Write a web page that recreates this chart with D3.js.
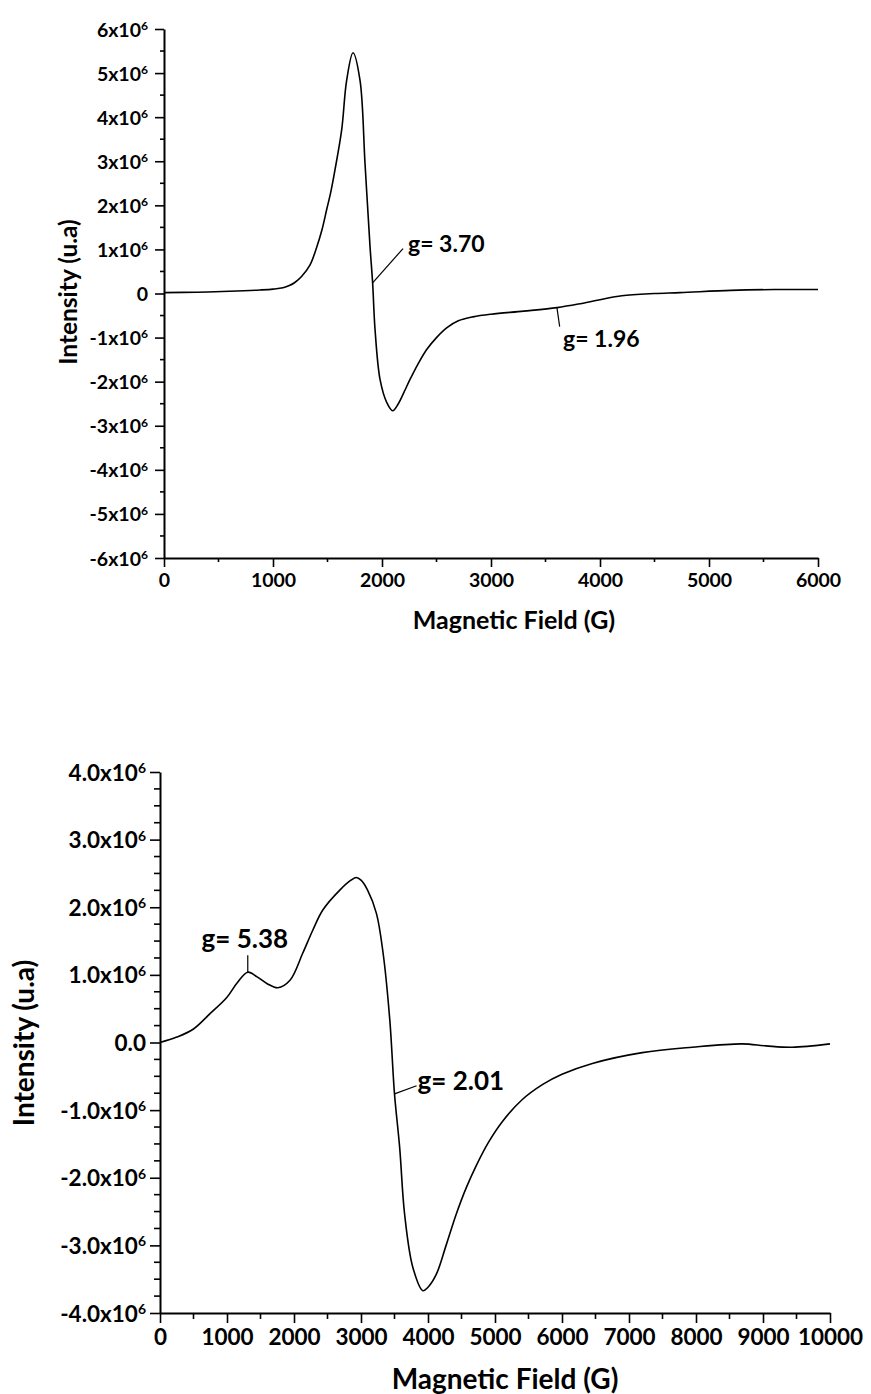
<!DOCTYPE html>
<html>
<head>
<meta charset="utf-8">
<script src="https://cdn.jsdelivr.net/npm/d3@7"></script>
<style>
  html, body { margin: 0; padding: 0; background: #fff; }
  svg { display: block; }
  text { font-family: Lato, "Open Sans", sans-serif; font-weight: bold; fill: #000; }
</style>
</head>
<body>
<svg id="chart" width="871" height="1394"></svg>
<script>
// ---------- DATA (Intensity in units of 10^6) ----------
// Top spectrum
const topField = [0, 300, 600, 880, 1000, 1092, 1150, 1200, 1260, 1340, 1401, 1450, 1492, 1530, 1569, 1630, 1676, 1734, 1798, 1844, 1890, 1914, 1936, 1982, 2043, 2098, 2150, 2200, 2257, 2330, 2410, 2500, 2593, 2700, 2835, 3000, 3300, 3605, 3800, 4000, 4200, 4500, 4734, 5200, 5600, 6000];
const topIntensity = [0.02, 0.03, 0.05, 0.08, 0.10, 0.13, 0.18, 0.25, 0.38, 0.65, 1.05, 1.45, 1.90, 2.30, 2.81, 3.71, 4.84, 5.46, 4.84, 2.96, 1.07, 0.24, -0.81, -1.95, -2.47, -2.66, -2.50, -2.25, -1.95, -1.60, -1.27, -1.00, -0.78, -0.62, -0.53, -0.47, -0.40, -0.32, -0.24, -0.14, -0.05, 0.00, 0.02, 0.07, 0.09, 0.09];
const topXTicks = [0, 1000, 2000, 3000, 4000, 5000, 6000];
const topYTicks = [6, 5, 4, 3, 2, 1, 0, -1, -2, -3, -4, -5, -6];
const topYLabels = ["6x10|6", "5x10|6", "4x10|6", "3x10|6", "2x10|6", "1x10|6", "0", "-1x10|6", "-2x10|6", "-3x10|6", "-4x10|6", "-5x10|6", "-6x10|6"];
const topNotes = [
  { text: "g= 3.70", ax: 1914, ay: 0.24, ex: 2193, ey: 1.02, tx: 2239, ty: 1.15, anchor: "start" },
  { text: "g= 1.96", ax: 3605, ay: -0.32, ex: 3630, ey: -0.75, tx: 3661, ty: -1.00, anchor: "start" }
];

// Bottom spectrum
const botField = [0, 250, 500, 750, 1000, 1150, 1310, 1450, 1600, 1760, 1940, 2130, 2280, 2430, 2680, 2850, 2930, 3000, 3100, 3230, 3330, 3430, 3500, 3577, 3651, 3775, 3924, 4000, 4123, 4270, 4421, 4570, 4720, 4900, 5117, 5400, 5713, 6000, 6453, 7198, 7943, 8688, 9046, 9434, 10000];
const botIntensity = [0.00, 0.08, 0.20, 0.43, 0.67, 0.88, 1.04, 0.97, 0.87, 0.81, 0.92, 1.32, 1.66, 1.96, 2.25, 2.40, 2.44, 2.40, 2.25, 1.91, 1.32, 0.33, -0.76, -1.55, -2.54, -3.33, -3.67, -3.62, -3.43, -3.00, -2.54, -2.15, -1.82, -1.48, -1.16, -0.85, -0.62, -0.47, -0.31, -0.15, -0.07, -0.02, -0.05, -0.07, -0.02];
const botXTicks = [0, 1000, 2000, 3000, 4000, 5000, 6000, 7000, 8000, 9000, 10000];
const botYTicks = [4, 3, 2, 1, 0, -1, -2, -3, -4];
const botYLabels = ["4.0x10|6", "3.0x10|6", "2.0x10|6", "1.0x10|6", "0.0", "-1.0x10|6", "-2.0x10|6", "-3.0x10|6", "-4.0x10|6"];
const botNotes = [
  { text: "g= 5.38", ax: 1310, ay: 1.04, ex: 1310, ey: 1.29, tx: 1267, ty: 1.54, anchor: "middle" },
  { text: "g= 2.01", ax: 3500, ay: -0.76, ex: 3830, ey: -0.64, tx: 3845, ty: -0.56, anchor: "start" }
];

// ---------- DRAW ----------
const svg = d3.select("#chart");

function drawPanel(cfg) {
  const x = d3.scaleLinear().domain(cfg.xDomain).range([cfg.x0, cfg.x1]);
  const y = d3.scaleLinear().domain(cfg.yDomain).range([cfg.y0, cfg.y1]);
  const g = svg.append("g");

  const xMinor = d3.range(cfg.xDomain[0], cfg.xDomain[1] + 1e-9, cfg.xMinorStep).filter(v => !cfg.xTicks.includes(v));
  const yMinor = d3.range(cfg.yDomain[0], cfg.yDomain[1] + 1e-9, cfg.yMinorStep).filter(v => !cfg.yTicks.some(t => Math.abs(t - v) < 1e-6));

  const xAxis = d3.axisBottom(x).tickValues(cfg.xTicks).tickSize(cfg.majorLen).tickSizeOuter(0).tickPadding(cfg.xPad).tickFormat(d3.format("d"));
  const gx = g.append("g").attr("transform", `translate(0,${cfg.y0})`).call(xAxis);
  gx.selectAll("text").style("font-size", cfg.tickFont + "px");
  gx.append("g").selectAll("line").data(xMinor).join("line")
    .attr("x1", d => x(d)).attr("x2", d => x(d)).attr("y1", 0).attr("y2", cfg.minorLen)
    .attr("stroke", "#000").attr("stroke-width", 1.6);

  const yAxis = d3.axisLeft(y).tickValues(cfg.yTicks).tickSize(cfg.majorLen).tickSizeOuter(0).tickPadding(cfg.yPad).tickFormat(() => "");
  const gy = g.append("g").attr("transform", `translate(${cfg.x0},0)`).call(yAxis);
  gy.append("g").selectAll("line").data(yMinor).join("line")
    .attr("x1", 0).attr("x2", -cfg.minorLen).attr("y1", d => y(d)).attr("y2", d => y(d))
    .attr("stroke", "#000").attr("stroke-width", 1.6);

  gy.selectAll(".tick").each(function(d, i) {
    const t = d3.select(this).select("text").text(null)
      .style("font-size", cfg.tickFont + "px").attr("dy", "0.36em");
    const parts = cfg.yLabels[i].split("|");
    t.append("tspan").text(parts[0]);
    if (parts[1]) {
      t.append("tspan").text(parts[1]).attr("dy", "-0.55em").style("font-size", (cfg.tickFont * 0.62) + "px");
    }
  });

  g.selectAll(".domain").attr("stroke", "#000").attr("stroke-width", 2);
  g.selectAll(".tick line").attr("stroke", "#000").attr("stroke-width", 1.6);

  g.append("text").attr("x", cfg.xTitleX).attr("y", cfg.xTitleY)
    .attr("text-anchor", "middle").attr("dominant-baseline", "central")
    .style("font-size", cfg.xTitleFont + "px").text("Magnetic Field (G)");
  g.append("text").attr("transform", `translate(${cfg.yTitleX},${cfg.yTitleY}) rotate(-90)`)
    .attr("text-anchor", "middle").attr("dominant-baseline", "central")
    .style("font-size", cfg.yTitleFont + "px").text("Intensity (u.a)");

  const line = d3.line().x(d => x(d[0])).y(d => y(d[1])).curve(d3.curveCatmullRom.alpha(0.5));
  g.append("path").datum(cfg.field.map((f, i) => [f, cfg.intensity[i]]))
    .attr("d", line).attr("fill", "none").attr("stroke", "#000").attr("stroke-width", 1.6);

  cfg.notes.forEach(n => {
    g.append("line").attr("x1", x(n.ax)).attr("y1", y(n.ay)).attr("x2", x(n.ex)).attr("y2", y(n.ey))
      .attr("stroke", "#000").attr("stroke-width", 1.2);
    g.append("text").attr("x", x(n.tx)).attr("y", y(n.ty)).attr("text-anchor", n.anchor)
      .attr("dominant-baseline", "central").style("font-size", cfg.noteFont + "px").text(n.text);
  });
}

drawPanel({
  field: topField, intensity: topIntensity, notes: topNotes,
  xDomain: [0, 6000], yDomain: [-6, 6], x0: 164, x1: 818, y0: 558, y1: 29,
  xTicks: topXTicks, yTicks: topYTicks, yLabels: topYLabels,
  xMinorStep: 500, yMinorStep: 0.5, majorLen: 9, minorLen: 4,
  tickFont: 19.5, xPad: 6, yPad: 7,
  xTitleX: 514, xTitleY: 619, xTitleFont: 25,
  yTitleX: 67, yTitleY: 292, yTitleFont: 24.5, noteFont: 23
});

drawPanel({
  field: botField, intensity: botIntensity, notes: botNotes,
  xDomain: [0, 10000], yDomain: [-4, 4], x0: 160, x1: 830, y0: 1313, y1: 772,
  xTicks: botXTicks, yTicks: botYTicks, yLabels: botYLabels,
  xMinorStep: 500, yMinorStep: 0.25, majorLen: 10, minorLen: 6,
  tickFont: 22.5, xPad: 6, yPad: 4,
  xTitleX: 505, xTitleY: 1378, xTitleFont: 28,
  yTitleX: 23, yTitleY: 1043, yTitleFont: 28, noteFont: 26
});
</script>
</body>
</html>
